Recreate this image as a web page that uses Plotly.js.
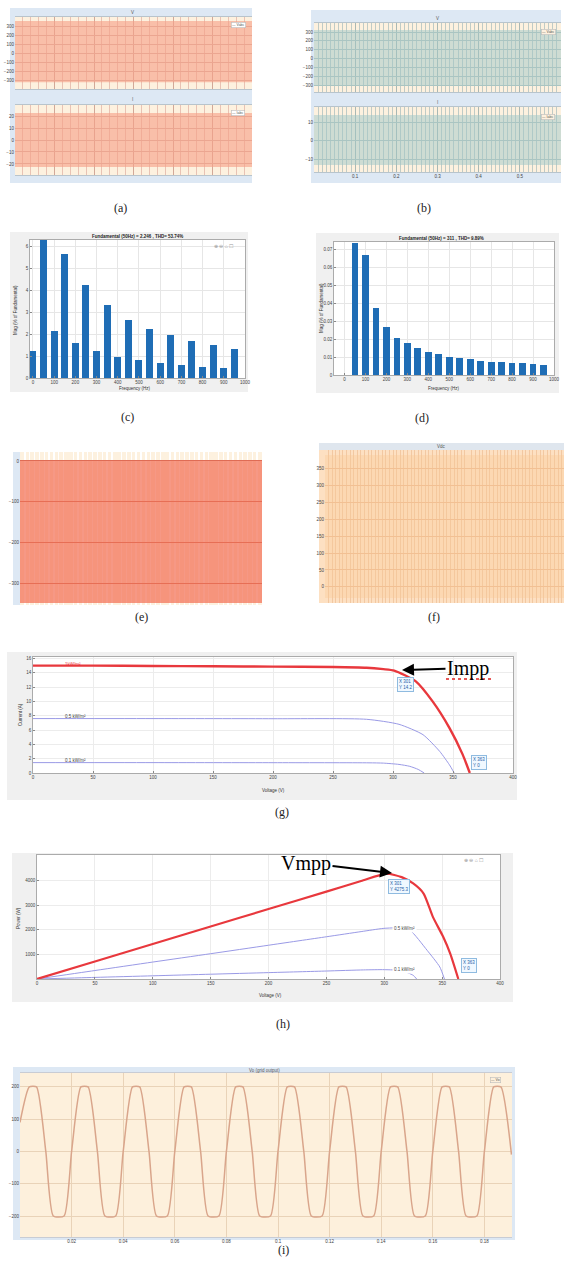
<!DOCTYPE html>
<html><head><meta charset="utf-8">
<script src="https://cdn.plot.ly/plotly-3.0.1.min.js"></script>
<style>html,body{margin:0;padding:0;background:#fff}#chart{width:568px;height:1264px}</style>
</head><body><div id="chart"></div>
<script>
// ================= DATA =================
// (a) inverter voltage / current waveform envelopes
const aTime = [0, 0.3, 0.6];
const aVUpper = [355, 355, 355];
const aVLower = [-315, -315, -315];
const aIUpper = [22.5, 22.5, 22.5];
const aILower = [-22.5, -22.5, -22.5];
// (b) grid voltage / current waveform envelopes
const bTime = [0, 0.3, 0.6];
const bVUpper = [323, 323, 323];
const bVLower = [-311, -311, -311];
const bIUpper = [13.8, 13.8, 13.8];
const bILower = [-13.2, -13.2, -13.2];
// (c) FFT spectrum 1
const cFreq = [0, 50, 100, 150, 200, 250, 300, 350, 400, 450, 500, 550, 600, 650, 700, 750, 800, 850, 900, 950];
const cMag = [1.22, 6.3, 2.13, 5.67, 1.61, 4.26, 1.22, 3.34, 0.96, 2.67, 0.81, 2.25, 0.68, 1.95, 0.58, 1.69, 0.50, 1.49, 0.46, 1.34];
const cTitle = "Fundamental (50Hz) = 2.246 , THD= 53.74%";
// (d) FFT spectrum 2
const dFreq = [50, 100, 150, 200, 250, 300, 350, 400, 450, 500, 550, 600, 650, 700, 750, 800, 850, 900, 950];
const dMag = [0.0737, 0.0672, 0.0377, 0.0271, 0.0209, 0.0177, 0.0149, 0.0131, 0.0116, 0.0103, 0.0097, 0.0088, 0.0080, 0.0075, 0.0071, 0.0067, 0.0065, 0.0062, 0.0056];
const dTitle = "Fundamental (50Hz) = 311 , THD= 9.89%";
// (e) waveform envelope
const eTime = [0, 0.5, 1];
const eUpper = [2, 2, 2];
const eLower = [-349, -349, -349];
const eTicks = [0, -100, -200, -300];
// (f) Vdc waveform envelope
const fTime = [0, 0.5, 1];
const fUpper = [391, 391, 391];
const fLower = [-33, -33, -33];
const fTicks = [0, 50, 100, 150, 200, 250, 300, 350];
// (g) I-V curves
const gV1 = [0, 50, 100, 150, 200, 250, 278, 292, 301, 319, 333, 347, 358, 364];
const gI1 = [15.0, 15.0, 14.95, 14.9, 14.85, 14.8, 14.7, 14.5, 14.3, 12.8, 10.0, 6.3, 2.6, 0];
const gV2 = [0, 100, 200, 278, 305, 325, 339, 347, 351];
const gI2 = [7.6, 7.6, 7.58, 7.5, 6.8, 5.35, 3.0, 1.15, 0];
const gV3 = [0, 100, 200, 280, 292, 305, 314, 321, 326];
const gI3 = [1.45, 1.45, 1.44, 1.42, 1.38, 1.2, 0.93, 0.5, 0];
const irrLabels = ["1kW/m\u00b2", "0.5 kW/m\u00b2", "0.1 kW/m\u00b2"];
// (h) P-V curves
const hV1 = [0, 50, 100, 150, 200, 250, 280, 302, 315, 325, 334, 342, 351, 357, 364];
const hP1 = [0, 712, 1424, 2136, 2848, 3560, 3990, 4290, 4150, 3890, 3480, 2530, 1710, 1034, 0];
const hV2 = [0, 50, 100, 150, 200, 250, 280, 299, 310, 322, 337, 348, 352];
const hP2 = [0, 345, 690, 1030, 1375, 1720, 1930, 2060, 2080, 1990, 1170, 490, 0];
const hV3 = [0, 50, 100, 150, 200, 250, 282, 300, 315, 325, 328];
const hP3 = [0, 65, 130, 195, 260, 325, 370, 380, 340, 150, 0];
// (i) output voltage waveform (time in ms)
const iTimeMs = [
  0, 3.6, 6.4, 10, 12.9, 17.1,
  20, 23.6, 26.4, 30, 32.9, 37.1,
  40, 43.6, 46.4, 50, 52.9, 57.1,
  60, 63.6, 66.4, 70, 72.9, 77.1,
  80, 83.6, 86.4, 90, 92.9, 97.1,
  100, 103.6, 106.4, 110, 112.9, 117.1,
  120, 123.6, 126.4, 130, 132.9, 137.1,
  140, 143.6, 146.4, 150, 152.9, 157.1,
  160, 163.6, 166.4, 170, 172.9, 177.1,
  180, 183.6, 186.4, 190.5];
const iVolt = [
  90, 200, 200, 0, -200, -200,
  0, 200, 200, 0, -200, -200,
  0, 200, 200, 0, -200, -200,
  0, 200, 200, 0, -200, -200,
  0, 200, 200, 0, -200, -200,
  0, 200, 200, 0, -200, -200,
  0, 200, 200, 0, -200, -200,
  0, 200, 200, 0, -200, -200,
  0, 200, 200, 0, -200, -200,
  0, 200, 200, -10];
const panelLabels = ["(a)", "(b)", "(c)", "(d)", "(e)", "(f)", "(g)", "(h)", "(i)"];

// ================= LAYOUT HELPERS =================
const W = 568, H = 1264;
const xd = (a, b) => [a / W, b / W];
const yd = (t, b) => [1 - b / H, 1 - t / H];
const TF = {family: "Liberation Sans", size: 4.5, color: "#444"};
const SERIF = "Times New Roman, Liberation Serif, DejaVu Serif, serif";
function axis(domain, range, extra) {
  return Object.assign({domain: domain, range: range, showgrid: false, zeroline: false,
    showline: false, ticks: "", showticklabels: false, fixedrange: true, tickfont: TF}, extra || {});
}
function rect(x0, y0, x1, y1, color, line) {
  return {type: "rect", xref: "paper", yref: "paper", x0: x0 / W, x1: x1 / W, y0: 1 - y1 / H, y1: 1 - y0 / H,
    fillcolor: color, line: line || {width: 0}, layer: "below"};
}
function txt(x, y, text, size, color, extra) {
  return Object.assign({xref: "paper", yref: "paper", x: x / W, y: 1 - y / H, text: text, showarrow: false,
    xanchor: "center", yanchor: "middle", font: {family: "Liberation Sans", size: size, color: color}}, extra || {});
}
function lab(x, y, text) {
  return txt(x, y, text, 12, "#222", {font: {family: SERIF, size: 12, color: "#222"}});
}
function tip(x, y, text) {
  return txt(x, y, text, 4.5, "#1f5fa8", {bgcolor: "rgba(240,248,255,0.97)", bordercolor: "#8fbbe0", borderwidth: 1, borderpad: 1, align: "left"});
}
function envelope(t, lo, hi, xa, ya, fill) {
  return [
    {type: "scatter", mode: "lines", x: t, y: lo, xaxis: xa, yaxis: ya, line: {width: 0}, hoverinfo: "skip"},
    {type: "scatter", mode: "lines", x: t, y: hi, xaxis: xa, yaxis: ya, line: {width: 0}, fill: "tonexty", fillcolor: fill, hoverinfo: "skip"}
  ];
}

const traces = [];
traces.push(...envelope(aTime, aVLower, aVUpper, "x", "y", "rgba(247,160,135,0.62)"));
traces.push(...envelope(aTime, aILower, aIUpper, "x2", "y2", "rgba(247,160,135,0.62)"));
traces.push(...envelope(bTime, bVLower, bVUpper, "x3", "y3", "rgba(160,200,200,0.5)"));
traces.push(...envelope(bTime, bILower, bIUpper, "x4", "y4", "rgba(160,200,200,0.5)"));
traces.push({type: "bar", x: cFreq, y: cMag, width: 33, xaxis: "x5", yaxis: "y5", marker: {color: "#1f6db5", line: {width: 0}}});
traces.push({type: "bar", x: dFreq, y: dMag, width: 32, xaxis: "x6", yaxis: "y6", marker: {color: "#1f6db5", line: {width: 0}}});
traces.push(...envelope(eTime, eLower, eUpper, "x7", "y7", "rgba(242,112,86,0.72)"));
traces.push(...envelope(fTime, fLower, fUpper, "x8", "y8", "rgba(250,200,150,0.35)"));
traces.push({type: "scatter", mode: "lines", x: gV3, y: gI3, xaxis: "x9", yaxis: "y9", line: {color: "#9a9ae6", width: 1, shape: "spline", smoothing: 0.6}});
traces.push({type: "scatter", mode: "lines", x: gV2, y: gI2, xaxis: "x9", yaxis: "y9", line: {color: "#9a9ae6", width: 1, shape: "spline", smoothing: 0.6}});
traces.push({type: "scatter", mode: "lines", x: gV1, y: gI1, xaxis: "x9", yaxis: "y9", line: {color: "#e8383d", width: 2.4, shape: "spline", smoothing: 0.6}});
traces.push({type: "scatter", mode: "lines", x: hV3, y: hP3, xaxis: "x10", yaxis: "y10", line: {color: "#9a9ae6", width: 1, shape: "spline", smoothing: 0.6}});
traces.push({type: "scatter", mode: "lines", x: hV2, y: hP2, xaxis: "x10", yaxis: "y10", line: {color: "#9a9ae6", width: 1, shape: "spline", smoothing: 0.6}});
traces.push({type: "scatter", mode: "lines", x: hV1, y: hP1, xaxis: "x10", yaxis: "y10", line: {color: "#e8383d", width: 2.2, shape: "spline", smoothing: 0.6}});
traces.push({type: "scatter", mode: "lines", x: iTimeMs.map(t => t / 1000), y: iVolt, xaxis: "x11", yaxis: "y11", line: {color: "#d9a58b", width: 1.5, shape: "spline", smoothing: 0.55}});

const boxLine = {showline: true, mirror: true, linecolor: "#9a9a9a", linewidth: 0.8, ticks: "inside", ticklen: 2, tickcolor: "#888"};
const layout = {
  width: W, height: H, margin: {l: 0, r: 0, t: 0, b: 0}, showlegend: false,
  paper_bgcolor: "#ffffff", plot_bgcolor: "rgba(0,0,0,0)", bargap: 0,
  // (a)
  xaxis: axis(xd(15, 252), [0, 0.6], {anchor: "y", showgrid: true, gridcolor: "#d2a898", dtick: 0.1, minor: {dtick: 0.02, showgrid: true, gridcolor: "#e8c2b4"}, showline: true, mirror: true, linecolor: "#b8c4cc"}),
  yaxis: axis(yd(17, 89), [-390, 400], {anchor: "x", tickvals: [-300, -200, -100, 0, 100, 200, 300], showticklabels: true, showgrid: true, gridcolor: "#d8b0a0"}),
  xaxis2: axis(xd(15, 252), [0, 0.6], {anchor: "y2", showgrid: true, gridcolor: "#d2a898", dtick: 0.1, minor: {dtick: 0.02, showgrid: true, gridcolor: "#e8c2b4"}, showline: true, mirror: true, linecolor: "#b8c4cc"}),
  yaxis2: axis(yd(105, 175), [-29.2, 29.2], {anchor: "x2", tickvals: [-20, -10, 0, 10, 20], showticklabels: true, showgrid: true, gridcolor: "#d8b0a0"}),
  // (b)
  xaxis3: axis(xd(314, 561), [0, 0.6], {anchor: "y3", showgrid: true, gridcolor: "#a9b8b4", dtick: 0.1, minor: {dtick: 0.01, showgrid: true, gridcolor: "#bfcbc6"}, showline: true, mirror: true, linecolor: "#b8c4cc"}),
  yaxis3: axis(yd(23, 92), [-379, 402], {anchor: "x3", tickvals: [-300, -200, -100, 0, 100, 200, 300], showticklabels: true, showgrid: true, gridcolor: "#b4c2bd"}),
  xaxis4: axis(xd(314, 561), [0, 0.6], {anchor: "y4", showgrid: true, gridcolor: "#a9b8b4", dtick: 0.1, minor: {dtick: 0.01, showgrid: true, gridcolor: "#bfcbc6"}, showline: true, mirror: true, linecolor: "#b8c4cc", showticklabels: true, tickvals: [0.1, 0.2, 0.3, 0.4, 0.5]}),
  yaxis4: axis(yd(107, 172), [-17, 18.1], {anchor: "x4", tickvals: [-10, 0, 10], showticklabels: true, showgrid: true, gridcolor: "#b4c2bd"}),
  // (c)
  xaxis5: axis(xd(30, 245), [-14, 1000], Object.assign({anchor: "y5", dtick: 100, showticklabels: true, showgrid: true, gridcolor: "#e6e6e6"}, boxLine)),
  yaxis5: axis(yd(240, 378), [0, 6.3], Object.assign({anchor: "x5", dtick: 1, showticklabels: true, showgrid: true, gridcolor: "#e6e6e6"}, boxLine)),
  // (d)
  xaxis6: axis(xd(334, 554), [-50, 1000], Object.assign({anchor: "y6", dtick: 100, showticklabels: true, showgrid: true, gridcolor: "#e6e6e6"}, boxLine)),
  yaxis6: axis(yd(242, 375), [0, 0.0744], Object.assign({anchor: "x6", dtick: 0.01, showticklabels: true, showgrid: true, gridcolor: "#e6e6e6"}, boxLine)),
  // (e)
  xaxis7: axis(xd(20, 262), [0, 1], {anchor: "y7", dtick: 0.2, minor: {dtick: 0.02, showgrid: true, gridcolor: "#ffffff", gridwidth: 1.4}}),
  yaxis7: axis(yd(452, 605), [-354, 22], {anchor: "x7", tickvals: eTicks, showticklabels: true, showgrid: true, gridcolor: "#c86a55"}),
  // (f)
  xaxis8: axis(xd(325, 564), [0, 1], {anchor: "y8", dtick: 0.2, minor: {dtick: 0.015, showgrid: true, gridcolor: "#f2c8a2"}}),
  yaxis8: axis(yd(450, 603), [-48, 406], {anchor: "x8", tickvals: fTicks, showticklabels: true, showgrid: true, gridcolor: "#eebc92"}),
  // (g)
  xaxis9: axis(xd(33, 513), [0, 400], Object.assign({anchor: "y9", dtick: 50, showticklabels: true, showgrid: true, gridcolor: "#ececec"}, boxLine)),
  yaxis9: axis(yd(657, 773), [0, 16.2], Object.assign({anchor: "x9", dtick: 2, showticklabels: true, showgrid: true, gridcolor: "#ececec"}, boxLine)),
  // (h)
  xaxis10: axis(xd(37, 500), [0, 400], Object.assign({anchor: "y10", dtick: 50, showticklabels: true, showgrid: true, gridcolor: "#ececec"}, boxLine)),
  yaxis10: axis(yd(855, 979), [0, 5050], Object.assign({anchor: "x10", tickvals: [1000, 2000, 3000, 4000], showticklabels: true, showgrid: true, gridcolor: "#ececec"}, boxLine)),
  // (i)
  xaxis11: axis(xd(20, 512), [0, 0.1907], {anchor: "y11", tickvals: [0.02, 0.04, 0.06, 0.08, 0.1, 0.12, 0.14, 0.16, 0.18], showticklabels: true, showgrid: true, gridcolor: "#e9d3b8", showline: true, mirror: true, linecolor: "#c8ccd4"}),
  yaxis11: axis(yd(1073, 1237), [-265, 243], {anchor: "x11", tickvals: [-200, -100, 0, 100, 200], showticklabels: true, showgrid: true, gridcolor: "#e9d3b8"}),
  shapes: [
    rect(10, 8, 252, 183, "#dde8f4"), rect(15, 17, 252, 89, "#fdf1df"), rect(15, 105, 252, 175, "#fdf1df"),
    rect(311, 10, 561, 183, "#dde8f4"), rect(314, 23, 561, 92, "#fdf1df"), rect(314, 107, 561, 172, "#fdf1df"),
    rect(10, 232, 248, 392, "#f0f0f0"), rect(30, 240, 245, 378, "#ffffff"),
    rect(316, 233, 559, 393, "#f0f0f0"), rect(334, 242, 554, 375, "#ffffff"),
    rect(13, 452, 20, 605, "#dde8f4"), rect(20, 452, 262, 605, "#fdf1df"),
    rect(319, 443, 564, 450, "#dfe6ee"), rect(319, 450, 564, 603, "#fde0c2"),
    rect(7, 652, 517, 800, "#f0f0f0"), rect(33, 657, 513, 773, "#ffffff"),
    rect(12, 853, 513, 1002, "#f0f0f0"), rect(37, 855, 500, 979, "#ffffff"),
    rect(13, 1067, 515, 1240, "#dde8f4"), rect(20, 1073, 512, 1237, "#fdf0dc"),
    {type: "line", xref: "paper", yref: "paper", x0: 446 / W, x1: 491 / W, y0: 1 - 679 / H, y1: 1 - 679 / H, line: {color: "#e02020", width: 1.6, dash: "dot"}, layer: "above"}
  ],
  annotations: [
    lab(120, 208, panelLabels[0]), lab(424, 208, panelLabels[1]), lab(127, 417, panelLabels[2]),
    lab(422, 418, panelLabels[3]), lab(141, 617, panelLabels[4]), lab(434, 617, panelLabels[5]),
    lab(282, 812, panelLabels[6]), lab(283, 1024, panelLabels[7]), lab(283, 1250, panelLabels[8]),
    txt(132, 12, "V", 4.5, "#555"), txt(132, 100, "I", 4.5, "#555"),
    txt(437, 19, "V", 4.5, "#555"), txt(437, 103, "I", 4.5, "#555"),
    txt(441, 446, "Vdc", 4.5, "#555"), txt(264, 1070, "Vo (grid output)", 4.5, "#555"),
    txt(238, 25, "\u2014 Vabc", 3.5, "#555", {bgcolor: "#ffffff", bordercolor: "#bbbbbb", borderwidth: 0.6, borderpad: 0.5}),
    txt(238, 113, "\u2014 Iabc", 3.5, "#555", {bgcolor: "#ffffff", bordercolor: "#bbbbbb", borderwidth: 0.6, borderpad: 0.5}),
    txt(548, 32, "\u2014 Vabc", 3.5, "#555", {bgcolor: "#fdf1df", bordercolor: "#bbbbbb", borderwidth: 0.6, borderpad: 0.5}),
    txt(548, 117, "\u2014 Iabc", 3.5, "#555", {bgcolor: "#fdf1df", bordercolor: "#bbbbbb", borderwidth: 0.6, borderpad: 0.5}),
    txt(496, 1080, "\u2014 Vo", 3.5, "#555", {bgcolor: "#fdf0dc", bordercolor: "#bbbbbb", borderwidth: 0.6, borderpad: 0.5}),
    txt(137, 236, "<b>" + cTitle + "</b>", 4.5, "#222"),
    txt(441, 238, "<b>" + dTitle + "</b>", 4.5, "#222"),
    txt(135, 388, "Frequency (Hz)", 4.5, "#333"), txt(444, 388, "Frequency (Hz)", 4.5, "#333"),
    txt(16, 310, "Mag (% of Fundamental)", 4.5, "#333", {textangle: -90}),
    txt(322, 308, "Mag (% of Fundamental)", 4.5, "#333", {textangle: -90}),
    txt(224, 246, "\u2295 \u2296 \u2302 \u2610", 5, "#999"),
    txt(474, 860, "\u2295 \u2296 \u2302 \u2610", 5, "#999"),
    txt(273, 790, "Voltage (V)", 4.5, "#333"), txt(20, 715, "Current (A)", 4.5, "#333", {textangle: -90}),
    txt(73, 664, irrLabels[0], 4.5, "#e8383d"), txt(75, 716, irrLabels[1], 4.5, "#444"), txt(75, 760, irrLabels[2], 4.5, "#444"),
    tip(405, 684, "X 301<br>Y 14.2"), tip(479, 762, "X 363<br>Y 0"),
    txt(270, 995, "Voltage (V)", 4.5, "#333"), txt(18, 918, "Power (W)", 4.5, "#333", {textangle: -90}),
    txt(404, 928, irrLabels[1], 4.5, "#444", {bgcolor: "#ffffff"}), txt(404, 969, irrLabels[2], 4.5, "#444", {bgcolor: "#ffffff"}),
    tip(399, 886, "X 301<br>Y 4275.3"), tip(469, 965, "X 363<br>Y 0"),
    {xref: "paper", yref: "paper", x: 402 / W, y: 1 - 670 / H, ax: 66, ay: -2, axref: "pixel", ayref: "pixel", text: "Impp", showarrow: true,
      arrowhead: 2, arrowsize: 1.2, arrowwidth: 2, arrowcolor: "#000", standoff: 0,
      font: {family: SERIF, size: 20, color: "#000"}},
    {xref: "paper", yref: "paper", x: 392 / W, y: 1 - 873 / H, ax: -86, ay: -10, axref: "pixel", ayref: "pixel", text: "Vmpp", showarrow: true,
      arrowhead: 2, arrowsize: 1.2, arrowwidth: 2, arrowcolor: "#000", standoff: 0,
      font: {family: SERIF, size: 20, color: "#000"}}
  ]
};
Plotly.newPlot("chart", traces, layout, {staticPlot: true, displayModeBar: false});
</script></body></html>
